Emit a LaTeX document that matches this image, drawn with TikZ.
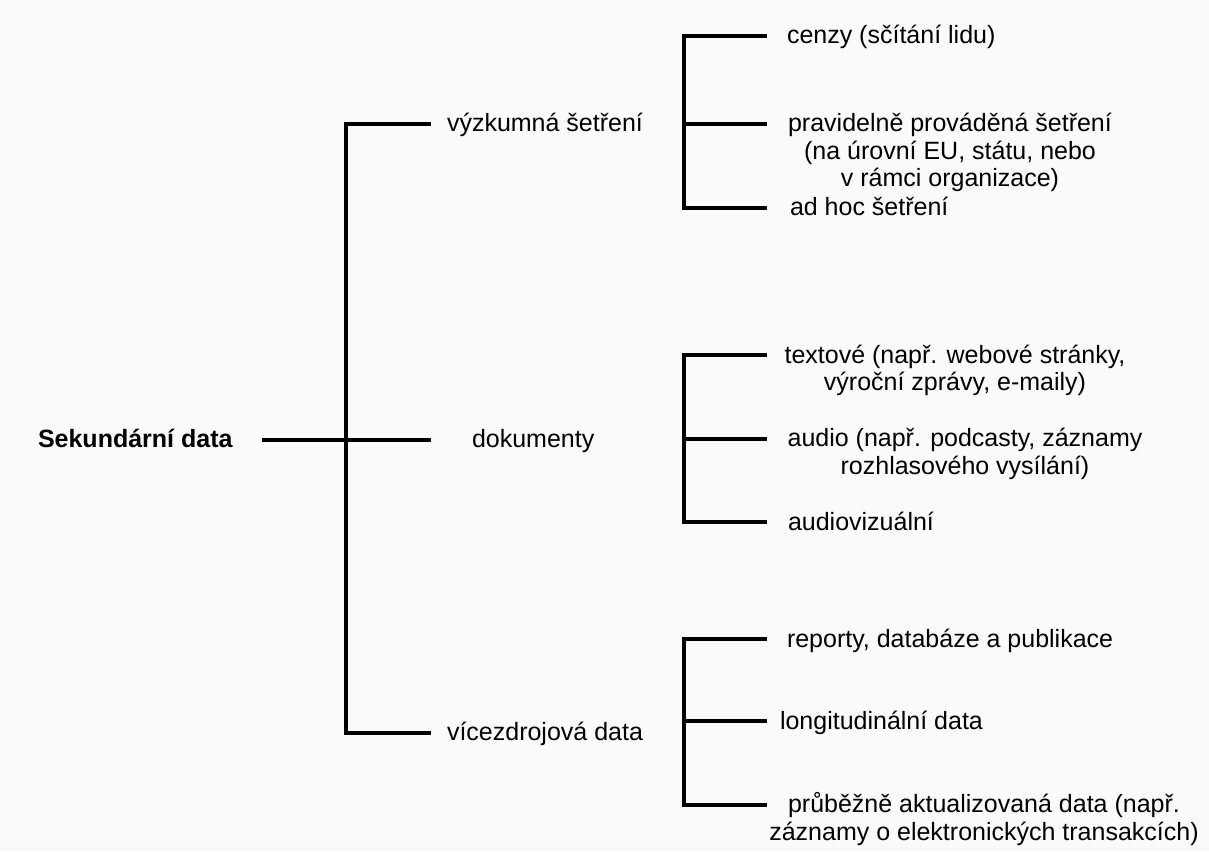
\documentclass[tikz,border=0pt]{standalone}
\usepackage{fontspec}
\setmainfont{Liberation Sans}
\definecolor{bgc}{RGB}{250,250,250}
\begin{document}
\begin{tikzpicture}[x=1pt,y=-1pt,
  lbl/.style={inner sep=0pt, outer sep=0pt, font=\fontsize{25}{27.5}\selectfont, align=center},
  rootlbl/.style={inner sep=0pt, outer sep=0pt, font=\fontsize{25}{27.5}\selectfont\bfseries},
  conn/.style={line width=4pt, draw=black}]
\fill[bgc] (0,0) rectangle (1209,851);
\useasboundingbox (0,0) rectangle (1209,851);

% labels (multi-line nodes: base anchor = baseline of last line)
\node[rootlbl, anchor=base west] (root) at (38,447.5) {Sekundární data};
\node[lbl, anchor=base west] (vyz) at (447,131.5) {výzkumná šetření};
\node[lbl, anchor=base west] (dok) at (472,447.5) {dokumenty};
\node[lbl, anchor=base west] (vic) at (447,740.5) {vícezdrojová data};

\node[lbl, anchor=base west] (cen) at (787,43.5) {cenzy (sčítání lidu)};
\node[lbl, anchor=base] (pra) at (950,186.5) {pravidelně prováděná šetření\\(na úrovní EU, státu, nebo\\v~rámci organizace)};
\node[lbl, anchor=base west] (adh) at (790,215.5) {ad hoc šetření};

\node[lbl, anchor=base] (txt) at (955,390.5) {textové (např. webové stránky,\\výroční zprávy, e-maily)};
\node[lbl, anchor=base] (aud) at (965,474) {audio (např. podcasty, záznamy\\rozhlasového vysílání)};
\node[lbl, anchor=base west] (av) at (788,530) {audiovizuální};

\node[lbl, anchor=base west] (rep) at (787,647) {reporty, databáze a publikace};
\node[lbl, anchor=base west] (lon) at (780,729) {longitudinální data};
\node[lbl, anchor=base] (pru) at (984,840) {průběžně aktualizovaná data (např.\\záznamy o elektronických transakcích)};

% junction coordinates
\coordinate (r0) at (262,440);
\coordinate (m1) at (346,124);
\coordinate (m3) at (346,733);
\coordinate (e1) at (431,124);
\coordinate (e2) at (431,440);
\coordinate (e3) at (431,733);

\coordinate (a1) at (684,36);  \coordinate (a1e) at (767,36);
\coordinate (a2) at (684,124); \coordinate (a2e) at (767,124);
\coordinate (a3) at (684,208); \coordinate (a3e) at (767,208);

\coordinate (b1) at (684,355); \coordinate (b1e) at (767,355);
\coordinate (b2) at (684,439); \coordinate (b2e) at (767,439);
\coordinate (b3) at (684,522); \coordinate (b3e) at (767,522);

\coordinate (c1) at (684,639); \coordinate (c1e) at (767,639);
\coordinate (c2) at (684,721); \coordinate (c2e) at (767,721);
\coordinate (c3) at (684,805); \coordinate (c3e) at (767,805);

% connectors
\draw[conn] (r0) -- (e2);
\draw[conn] (e1) -- (m1) -- (m3) -- (e3);

\draw[conn] (a1e) -- (a1) -- (a3) -- (a3e);
\draw[conn] (a2) -- (a2e);

\draw[conn] (b1e) -- (b1) -- (b3) -- (b3e);
\draw[conn] (b2) -- (b2e);

\draw[conn] (c1e) -- (c1) -- (c3) -- (c3e);
\draw[conn] (c2) -- (c2e);
\end{tikzpicture}
\end{document}
